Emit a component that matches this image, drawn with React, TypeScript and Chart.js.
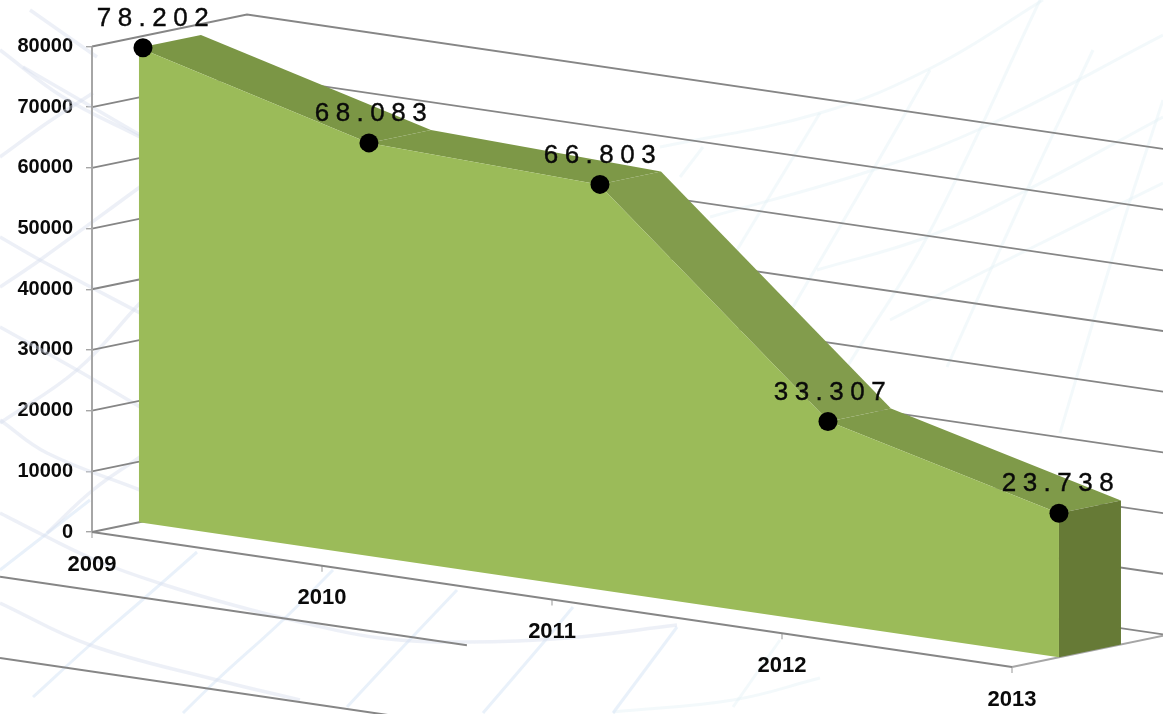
import React, { useEffect, useRef } from "react";
import { Chart, registerables } from "chart.js";

Chart.register(...registerables);

// Chart content
const years = [2009, 2010, 2011, 2012, 2013];
const values = [78202, 68083, 66803, 33307, 23738];
const valueLabels = ["78.202", "68.083", "66.803", "33.307", "23.738"];
const yTicks = [0, 10000, 20000, 30000, 40000, 50000, 60000, 70000, 80000];
const strayGridValues = [-9600, -23000];
const strayGridEnds = [2010.63, 2010.31];
const topShades = ["#7B9645", "#7D9847", "#829C4C", "#7F9A49"];

// Oblique 3D projection expressed in axis units
const WIDTH = 1163;
const HEIGHT = 714;
const AXIS_LEFT = 92;
const PX_PER_YEAR = 230;
const ZERO_PX = 532;
const PX_PER_VALUE = 485.5 / 80000;
const DEPTH_YEARS = 155 / PX_PER_YEAR;
const SKEW_PER_YEAR = 33.75 / PX_PER_VALUE;
const LIFT_PER_DEPTH = 32 / PX_PER_VALUE;
const FRONT = 0.303;
const BACK = 0.703;

const project = (year: number, value: number, depth: number) => ({
  x: year + depth * DEPTH_YEARS,
  y: value - (year - years[0]) * SKEW_PER_YEAR + depth * LIFT_PER_DEPTH,
});
const screen = (px: number, py: number) => ({
  x: years[0] + (px - AXIS_LEFT) / PX_PER_YEAR,
  y: (ZERO_PX - py) / PX_PER_VALUE,
});

// Faint backdrop artwork
const backdropLeft = [
  [[0, 50], [63, 97], [140, 137]],
  [[30, 10], [97, 57]],
  [[23, 67], [80, 100], [140, 135]],
  [[0, 157], [47, 123], [93, 93]],
  [[0, 237], [40, 260], [140, 313]],
  [[0, 287], [40, 260], [140, 187]],
  [[0, 327], [77, 370], [140, 407]],
  [[0, 423], [77, 370], [140, 303]],
  [[0, 420], [47, 453], [140, 490]],
  [[47, 533], [93, 490], [140, 457]],
  [[0, 513], [43, 535], [100, 562], [165, 585], [233, 605], [300, 622], [380, 638], [467, 642], [567, 638], [677, 625]],
  [[0, 603], [90, 645], [217, 680], [300, 700]],
];
const backdropBottom = [
  [[0, 570], [90, 500]],
  [[33, 697], [90, 645], [140, 602], [197, 552]],
  [[183, 713], [217, 680], [283, 620], [333, 570]],
  [[347, 707], [400, 650], [457, 590]],
  [[483, 713], [543, 643], [573, 607]],
  [[613, 713], [677, 627]],
];
const backdropRight = [
  [[733, 707], [780, 640]],
  [[613, 712], [733, 700], [820, 678]],
  [[660, 147], [820, 113], [933, 67], [1043, 0]],
  [[710, 217], [873, 170], [993, 123], [1163, 35]],
  [[817, 270], [927, 237], [1027, 190], [1163, 117]],
  [[890, 320], [993, 267], [1163, 183]],
  [[680, 177], [703, 147]],
  [[737, 250], [820, 113]],
  [[793, 307], [873, 170], [930, 70]],
  [[847, 367], [927, 237], [1040, 0]],
  [[947, 367], [1027, 190], [1093, 50]],
  [[1060, 433], [1120, 233], [1163, 100]],
];

const LABEL_SHIFT = [14, 2, 1, 1, -1];
const MARKER_SHIFT = [4 / PX_PER_YEAR, 0, 1 / PX_PER_YEAR, -1 / PX_PER_YEAR, 0];

const lineSet = (data: any[], color: string, width: number, order: number, tension = 0) => ({
  type: "scatter" as const,
  data,
  showLine: true,
  borderColor: color,
  borderWidth: width,
  pointRadius: 0,
  pointHoverRadius: 0,
  fill: false,
  tension,
  capBezierPoints: false,
  clip: false as const,
  order,
});

const polygon = (data: any[], color: string, order: number) => ({
  type: "scatter" as const,
  data,
  showLine: true,
  borderWidth: 0,
  borderColor: "transparent",
  backgroundColor: color,
  pointRadius: 0,
  pointHoverRadius: 0,
  fill: "shape",
  tension: 0,
  clip: false as const,
  order,
});

// Curves listed right-to-left so the line controller keeps points left of the axis
const curve = (c: number[][]) => c.map(([a, b]) => screen(a, b)).reverse();

const textPlugin = {
  id: "chartTexts",
  afterDatasetsDraw(chart: any) {
    const { ctx, scales } = chart;
    ctx.save();
    ctx.textAlign = "center";
    ctx.textBaseline = "middle";
    ctx.fillStyle = "#0A0A0A";
    ctx.strokeStyle = "#0A0A0A";
    ctx.font = 'bold 22px "Liberation Sans"';
    years.forEach((year) => {
      const p = project(year, 0, 0);
      ctx.fillText(
        String(year),
        scales.x.getPixelForValue(p.x),
        scales.y.getPixelForValue(p.y) + 32.5
      );
    });
    ctx.font = '26px "Liberation Sans"';
    ctx.letterSpacing = "6.5px";
    ctx.lineWidth = 0.4;
    valueLabels.forEach((label, i) => {
      const p = project(years[i], values[i], FRONT);
      const x = scales.x.getPixelForValue(p.x) + LABEL_SHIFT[i] + 3;
      const y = scales.y.getPixelForValue(p.y) - 29;
      ctx.fillText(label, x, y);
      ctx.strokeText(label, x, y);
    });
    ctx.restore();
  },
};

export default function App() {
  const ref = useRef<HTMLCanvasElement>(null);
  useEffect(() => {
    document.body.style.margin = "0";
    document.body.style.overflow = "hidden";
    const datasets: any[] = [];

    // Markers on top, then faces, then grid, then backdrop
    datasets.push({
      type: "scatter",
      data: years.map((y, i) => {
        const p = project(y, values[i], FRONT);
        return { x: p.x + MARKER_SHIFT[i], y: p.y };
      }),
      backgroundColor: "#000000",
      borderWidth: 0,
      pointRadius: 9.5,
      pointHoverRadius: 9.5,
      showLine: false,
      clip: false,
      order: 0,
    });

    datasets.push(
      polygon(
        [
          ...years.map((y, i) => project(y, values[i], FRONT)),
          project(years[4], 0, FRONT),
          project(years[0], 0, FRONT),
        ],
        "#9BBB59",
        1
      )
    );
    const last = years.length - 1;
    datasets.push(
      polygon(
        [
          project(years[last], values[last], FRONT),
          project(years[last], values[last], BACK),
          project(years[last], 0, BACK),
          project(years[last], 0, FRONT),
        ],
        "#667A36",
        2
      )
    );
    topShades.forEach((shade, i) => {
      datasets.push(
        polygon(
          [
            project(years[i], values[i], FRONT),
            project(years[i + 1], values[i + 1], FRONT),
            project(years[i + 1], values[i + 1], BACK),
            project(years[i], values[i], BACK),
          ],
          shade,
          3
        )
      );
    });

    // Walls and floor
    yTicks.forEach((v) => {
      datasets.push(
        lineSet(
          [project(years[0], v, 0), project(years[0], v, 1), project(years[last], v, 1)],
          "#868686",
          1.8,
          10
        )
      );
    });
    datasets.push(
      lineSet([project(years[0], 0, 0), project(years[last], 0, 0)], "#868686", 2.2, 9)
    );
    datasets.push(
      lineSet([project(years[last], 0, 0), project(years[last], 0, 1)], "#A6A6A6", 2, 9)
    );
    datasets.push(
      lineSet([project(years[0], 0, 0), project(years[0], yTicks[8], 0)], "#A6A6A6", 2, 9)
    );
    years.forEach((y) => {
      datasets.push(
        lineSet([project(y, 0, 0), project(y, -1000, 0)], "#B0B0B0", 1.3, 9)
      );
    });
    strayGridValues.forEach((v, i) => {
      datasets.push(
        lineSet(
          [project(2008.6, v, 0), project(strayGridEnds[i], v, 0)],
          "#868686",
          2,
          11
        )
      );
    });

    // Backdrop
    backdropLeft.forEach((c) =>
      datasets.push(lineSet(curve(c), "rgba(214,221,238,0.45)", 3.5, 20, 0.4))
    );
    backdropBottom.forEach((c) =>
      datasets.push(lineSet(curve(c), "rgba(215,230,246,0.55)", 3, 20, 0.4))
    );
    backdropRight.forEach((c) =>
      datasets.push(lineSet(curve(c), "rgba(225,241,246,0.4)", 3, 20, 0.4))
    );

    const chart = new Chart(ref.current as HTMLCanvasElement, {
      type: "scatter",
      data: { datasets },
      plugins: [
        {
          id: "pageBackground",
          beforeDraw(c: any) {
            c.ctx.save();
            c.ctx.fillStyle = "#FFFFFF";
            c.ctx.fillRect(0, 0, WIDTH, HEIGHT);
            c.ctx.restore();
          },
        },
        textPlugin,
      ],
      options: {
        animation: false,
        responsive: false,
        layout: { padding: 0, autoPadding: false },
        plugins: { legend: { display: false }, tooltip: { enabled: false } },
        events: [],
        scales: {
          x: {
            type: "linear",
            display: false,
            min: years[0],
            max: years[0] + (WIDTH - AXIS_LEFT) / PX_PER_YEAR,
          },
          y: {
            type: "linear",
            position: "left",
            min: (ZERO_PX - HEIGHT) / PX_PER_VALUE,
            max: ZERO_PX / PX_PER_VALUE,
            afterFit(s: any) {
              s.width = AXIS_LEFT;
              s.paddingTop = 0;
              s.paddingBottom = 0;
            },
            afterBuildTicks(s: any) {
              s.ticks = yTicks.map((value) => ({ value }));
            },
            border: { display: false },
            grid: {
              drawOnChartArea: false,
              drawTicks: true,
              tickLength: 6,
              color: "#A6A6A6",
              lineWidth: 1.4,
            },
            ticks: {
              autoSkip: false,
              padding: 13,
              color: "#0A0A0A",
              font: { family: '"Liberation Sans"', size: 20, weight: "bold" },
              callback: (v: any) => String(v),
            },
          },
        },
      } as any,
    } as any);
    return () => chart.destroy();
  }, []);

  return (
    <div style={{ position: "fixed", left: 0, top: 0, width: WIDTH, height: HEIGHT }}>
      <canvas ref={ref} width={WIDTH} height={HEIGHT} style={{ display: "block" }} />
    </div>
  );
}
